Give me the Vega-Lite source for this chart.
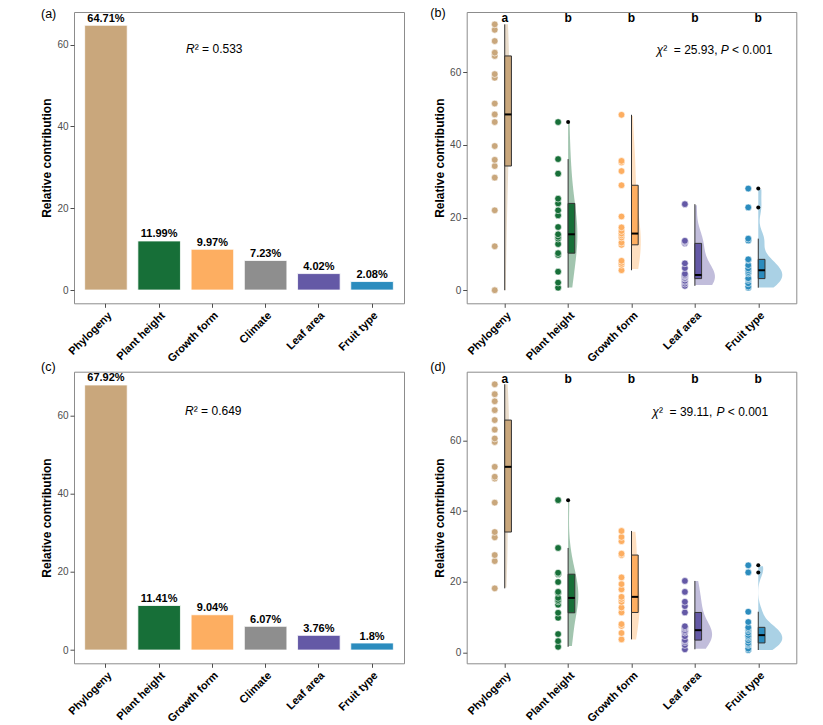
{
  "$schema": "https://vega.github.io/schema/vega-lite/v6.json",
  "background": "white",
  "padding": {"left": 40, "top": 6, "right": 5, "bottom": 2},
  "config": {
    "font": "Liberation Sans",
    "view": {"stroke": "#8c8c8c", "strokeWidth": 1},
    "axis": {"domain": false, "grid": false, "tickColor": "#4d4d4d", "tickSize": 4, "labelColor": "#4d4d4d", "labelFontSize": 10, "titleFontSize": 12, "titleFontWeight": "bold", "titleColor": "black", "labelPadding": 2, "titlePadding": 3}
  },
  "datasets": {
    "bar_a": [
      {"cat": "Phylogeny", "v": 64.71, "lab": "64.71%"},
      {"cat": "Plant height", "v": 11.99, "lab": "11.99%"},
      {"cat": "Growth form", "v": 9.97, "lab": "9.97%"},
      {"cat": "Climate", "v": 7.23, "lab": "7.23%"},
      {"cat": "Leaf area", "v": 4.02, "lab": "4.02%"},
      {"cat": "Fruit type", "v": 2.08, "lab": "2.08%"}
    ],
    "bar_c": [
      {"cat": "Phylogeny", "v": 67.92, "lab": "67.92%"},
      {"cat": "Plant height", "v": 11.41, "lab": "11.41%"},
      {"cat": "Growth form", "v": 9.04, "lab": "9.04%"},
      {"cat": "Climate", "v": 6.07, "lab": "6.07%"},
      {"cat": "Leaf area", "v": 3.76, "lab": "3.76%"},
      {"cat": "Fruit type", "v": 1.8, "lab": "1.8%"}
    ],
    "pts_b": [
      {"cat": "Phylogeny", "v": 0}, {"cat": "Phylogeny", "v": 12.1}, {"cat": "Phylogeny", "v": 22.0}, {"cat": "Phylogeny", "v": 31.0}, {"cat": "Phylogeny", "v": 34.2}, {"cat": "Phylogeny", "v": 35.9}, {"cat": "Phylogeny", "v": 39.7}, {"cat": "Phylogeny", "v": 46.3}, {"cat": "Phylogeny", "v": 48.4}, {"cat": "Phylogeny", "v": 51.4}, {"cat": "Phylogeny", "v": 58.5}, {"cat": "Phylogeny", "v": 59.5}, {"cat": "Phylogeny", "v": 64.5}, {"cat": "Phylogeny", "v": 65.4}, {"cat": "Phylogeny", "v": 68.6}, {"cat": "Phylogeny", "v": 71.7}, {"cat": "Phylogeny", "v": 73.2},
      {"cat": "Plant height", "v": 0.7}, {"cat": "Plant height", "v": 2.1}, {"cat": "Plant height", "v": 5.1}, {"cat": "Plant height", "v": 9.7}, {"cat": "Plant height", "v": 10.2}, {"cat": "Plant height", "v": 12.7}, {"cat": "Plant height", "v": 14.2}, {"cat": "Plant height", "v": 14.7}, {"cat": "Plant height", "v": 15.4}, {"cat": "Plant height", "v": 17.4}, {"cat": "Plant height", "v": 20.6}, {"cat": "Plant height", "v": 22.0}, {"cat": "Plant height", "v": 23.9}, {"cat": "Plant height", "v": 25.2}, {"cat": "Plant height", "v": 32.1}, {"cat": "Plant height", "v": 36.1}, {"cat": "Plant height", "v": 46.3},
      {"cat": "Growth form", "v": 5.5}, {"cat": "Growth form", "v": 7.0}, {"cat": "Growth form", "v": 7.5}, {"cat": "Growth form", "v": 8.1}, {"cat": "Growth form", "v": 12.5}, {"cat": "Growth form", "v": 13.1}, {"cat": "Growth form", "v": 14.5}, {"cat": "Growth form", "v": 15.1}, {"cat": "Growth form", "v": 15.6}, {"cat": "Growth form", "v": 16.3}, {"cat": "Growth form", "v": 17.3}, {"cat": "Growth form", "v": 20.3}, {"cat": "Growth form", "v": 28.9}, {"cat": "Growth form", "v": 32.8}, {"cat": "Growth form", "v": 35.2}, {"cat": "Growth form", "v": 35.6}, {"cat": "Growth form", "v": 48.3},
      {"cat": "Leaf area", "v": 1.2}, {"cat": "Leaf area", "v": 1.8}, {"cat": "Leaf area", "v": 2.3}, {"cat": "Leaf area", "v": 2.6}, {"cat": "Leaf area", "v": 3.2}, {"cat": "Leaf area", "v": 3.4}, {"cat": "Leaf area", "v": 3.8}, {"cat": "Leaf area", "v": 4.0}, {"cat": "Leaf area", "v": 4.2}, {"cat": "Leaf area", "v": 4.5}, {"cat": "Leaf area", "v": 6.1}, {"cat": "Leaf area", "v": 7.4}, {"cat": "Leaf area", "v": 12.9}, {"cat": "Leaf area", "v": 13.2}, {"cat": "Leaf area", "v": 13.4}, {"cat": "Leaf area", "v": 13.6}, {"cat": "Leaf area", "v": 23.7},
      {"cat": "Fruit type", "v": 0.7}, {"cat": "Fruit type", "v": 1.0}, {"cat": "Fruit type", "v": 1.9}, {"cat": "Fruit type", "v": 2.8}, {"cat": "Fruit type", "v": 3.2}, {"cat": "Fruit type", "v": 3.3}, {"cat": "Fruit type", "v": 4.6}, {"cat": "Fruit type", "v": 5.0}, {"cat": "Fruit type", "v": 5.5}, {"cat": "Fruit type", "v": 6.0}, {"cat": "Fruit type", "v": 6.9}, {"cat": "Fruit type", "v": 8.3}, {"cat": "Fruit type", "v": 8.5}, {"cat": "Fruit type", "v": 13.7}, {"cat": "Fruit type", "v": 14.2}, {"cat": "Fruit type", "v": 22.8}, {"cat": "Fruit type", "v": 28.0}
    ],
    "box_b": [
      {"cat": "Phylogeny", "lo": 0, "q1": 34.2, "med": 48.4, "q3": 64.5, "hi": 73.2},
      {"cat": "Plant height", "lo": 0.7, "q1": 10.2, "med": 15.4, "q3": 23.9, "hi": 36.1},
      {"cat": "Growth form", "lo": 5.5, "q1": 12.5, "med": 15.6, "q3": 28.9, "hi": 48.3},
      {"cat": "Leaf area", "lo": 1.2, "q1": 3.2, "med": 4.2, "q3": 12.9, "hi": 23.7},
      {"cat": "Fruit type", "lo": 0.7, "q1": 3.2, "med": 5.5, "q3": 8.5, "hi": 14.2}
    ],
    "out_b": [
      {"cat": "Plant height", "v": 46.3}, {"cat": "Fruit type", "v": 22.8}, {"cat": "Fruit type", "v": 28.0}
    ],
    "sig_b": [
      {"cat": "Phylogeny", "sig": "a"}, {"cat": "Plant height", "sig": "b"}, {"cat": "Growth form", "sig": "b"}, {"cat": "Leaf area", "sig": "b"}, {"cat": "Fruit type", "sig": "b"}
    ],
    "pts_d": [
      {"cat": "Phylogeny", "v": 18.2}, {"cat": "Phylogeny", "v": 25.9}, {"cat": "Phylogeny", "v": 27.6}, {"cat": "Phylogeny", "v": 32.6}, {"cat": "Phylogeny", "v": 34.1}, {"cat": "Phylogeny", "v": 42.4}, {"cat": "Phylogeny", "v": 49.2}, {"cat": "Phylogeny", "v": 49.7}, {"cat": "Phylogeny", "v": 52.5}, {"cat": "Phylogeny", "v": 59.5}, {"cat": "Phylogeny", "v": 60.5}, {"cat": "Phylogeny", "v": 63.0}, {"cat": "Phylogeny", "v": 65.7}, {"cat": "Phylogeny", "v": 68.5}, {"cat": "Phylogeny", "v": 71.0}, {"cat": "Phylogeny", "v": 73.0}, {"cat": "Phylogeny", "v": 75.8},
      {"cat": "Plant height", "v": 1.7}, {"cat": "Plant height", "v": 3.3}, {"cat": "Plant height", "v": 5.3}, {"cat": "Plant height", "v": 9.9}, {"cat": "Plant height", "v": 11.3}, {"cat": "Plant height", "v": 13.6}, {"cat": "Plant height", "v": 14.5}, {"cat": "Plant height", "v": 14.9}, {"cat": "Plant height", "v": 15.5}, {"cat": "Plant height", "v": 16.9}, {"cat": "Plant height", "v": 17.2}, {"cat": "Plant height", "v": 20.0}, {"cat": "Plant height", "v": 22.2}, {"cat": "Plant height", "v": 22.4}, {"cat": "Plant height", "v": 22.6}, {"cat": "Plant height", "v": 29.6}, {"cat": "Plant height", "v": 43.1},
      {"cat": "Growth form", "v": 3.8}, {"cat": "Growth form", "v": 5.6}, {"cat": "Growth form", "v": 7.6}, {"cat": "Growth form", "v": 8.1}, {"cat": "Growth form", "v": 11.4}, {"cat": "Growth form", "v": 12.8}, {"cat": "Growth form", "v": 14.4}, {"cat": "Growth form", "v": 15.2}, {"cat": "Growth form", "v": 15.8}, {"cat": "Growth form", "v": 17.9}, {"cat": "Growth form", "v": 19.4}, {"cat": "Growth form", "v": 21.3}, {"cat": "Growth form", "v": 27.6}, {"cat": "Growth form", "v": 28.0}, {"cat": "Growth form", "v": 31.5}, {"cat": "Growth form", "v": 32.7}, {"cat": "Growth form", "v": 34.4},
      {"cat": "Leaf area", "v": 1.0}, {"cat": "Leaf area", "v": 2.2}, {"cat": "Leaf area", "v": 3.0}, {"cat": "Leaf area", "v": 3.4}, {"cat": "Leaf area", "v": 3.6}, {"cat": "Leaf area", "v": 4.7}, {"cat": "Leaf area", "v": 5.7}, {"cat": "Leaf area", "v": 6.1}, {"cat": "Leaf area", "v": 6.4}, {"cat": "Leaf area", "v": 6.9}, {"cat": "Leaf area", "v": 7.2}, {"cat": "Leaf area", "v": 7.5}, {"cat": "Leaf area", "v": 11.4}, {"cat": "Leaf area", "v": 13.2}, {"cat": "Leaf area", "v": 14.4}, {"cat": "Leaf area", "v": 17.2}, {"cat": "Leaf area", "v": 20.3},
      {"cat": "Fruit type", "v": 0.8}, {"cat": "Fruit type", "v": 1.2}, {"cat": "Fruit type", "v": 2.2}, {"cat": "Fruit type", "v": 2.5}, {"cat": "Fruit type", "v": 2.8}, {"cat": "Fruit type", "v": 3.5}, {"cat": "Fruit type", "v": 4.2}, {"cat": "Fruit type", "v": 4.6}, {"cat": "Fruit type", "v": 5.0}, {"cat": "Fruit type", "v": 5.7}, {"cat": "Fruit type", "v": 6.4}, {"cat": "Fruit type", "v": 6.8}, {"cat": "Fruit type", "v": 7.2}, {"cat": "Fruit type", "v": 8.7}, {"cat": "Fruit type", "v": 11.6}, {"cat": "Fruit type", "v": 22.7}, {"cat": "Fruit type", "v": 24.7}
    ],
    "box_d": [
      {"cat": "Phylogeny", "lo": 18.2, "q1": 34.1, "med": 52.5, "q3": 65.7, "hi": 75.8},
      {"cat": "Plant height", "lo": 1.7, "q1": 11.3, "med": 15.5, "q3": 22.2, "hi": 29.6},
      {"cat": "Growth form", "lo": 3.8, "q1": 11.4, "med": 15.8, "q3": 27.6, "hi": 34.4},
      {"cat": "Leaf area", "lo": 1.0, "q1": 3.6, "med": 6.4, "q3": 11.4, "hi": 20.3},
      {"cat": "Fruit type", "lo": 0.8, "q1": 2.8, "med": 5.0, "q3": 7.2, "hi": 11.6}
    ],
    "out_d": [
      {"cat": "Plant height", "v": 43.1}, {"cat": "Fruit type", "v": 22.7}, {"cat": "Fruit type", "v": 24.7}
    ],
    "sig_d": [
      {"cat": "Phylogeny", "sig": "a"}, {"cat": "Plant height", "sig": "b"}, {"cat": "Growth form", "sig": "b"}, {"cat": "Leaf area", "sig": "b"}, {"cat": "Fruit type", "sig": "b"}
    ]
  },
  "columns": 2,
  "bounds": "flush",
  "spacing": {"row": 67.7, "column": 62.7},
  "resolve": {"scale": {"xOffset": "independent"}},
  "concat": [
    {
      "width": 330, "height": 291.3,
      "title": {"text": "(a)", "anchor": "start", "frame": "group", "dx": -33, "offset": -14, "baseline": "middle", "fontSize": 12.5, "fontWeight": "normal", "color": "black"},
      "data": {"name": "bar_a"},
      "encoding": {
        "x": {"field": "cat", "type": "nominal", "scale": {"domain": ["Phylogeny", "Plant height", "Growth form", "Climate", "Leaf area", "Fruit type"], "paddingInner": 0.2, "paddingOuter": 0.2}, "axis": {"title": null, "labelAngle": -45, "labelAlign": "right", "labelBaseline": "top", "labelFontWeight": "bold", "labelColor": "black", "labelFontSize": 11, "labelPadding": 2}}
      },
      "layer": [
        {"mark": {"type": "bar", "stroke": "white", "strokeWidth": 0.8},
         "encoding": {
           "y": {"field": "v", "type": "quantitative", "scale": {"domain": [-3.24, 67.95], "nice": false}, "axis": {"title": "Relative contribution", "values": [0, 20, 40, 60]}},
           "color": {"field": "cat", "type": "nominal", "scale": {"domain": ["Phylogeny", "Plant height", "Growth form", "Climate", "Leaf area", "Fruit type"], "range": ["#C9A77C", "#176F38", "#FDAE61", "#8E8E8E", "#6459A6", "#2B8CBE"]}, "legend": null}
         }},
        {"mark": {"type": "text", "baseline": "bottom", "dy": -1.5, "fontWeight": "bold", "fontSize": 11, "color": "black"},
         "encoding": {
           "y": {"field": "v", "type": "quantitative", "scale": {"domain": [-3.24, 67.95], "nice": false}, "axis": {"title": "Relative contribution", "values": [0, 20, 40, 60]}},
           "text": {"field": "lab"}
         }},
        {"data": {"values": [{}]}, "mark": {"type": "text", "align": "left", "baseline": "middle", "fontStyle": "italic", "fontSize": 12, "dx": -26.3, "color": "black"},
         "encoding": {"x": {"datum": "Growth form"}, "y": {"datum": 59.0, "type": "quantitative"}, "text": {"value": "R"}}},
        {"data": {"values": [{}]}, "mark": {"type": "text", "align": "left", "baseline": "middle", "fontSize": 12, "dx": -17.6, "color": "black"},
         "encoding": {"x": {"datum": "Growth form"}, "y": {"datum": 59.0, "type": "quantitative"}, "text": {"value": "²\u00a0=\u00a00.533"}}}
      ]
    },
    {
      "width": 329.6, "height": 291.3,
      "title": {"text": "(b)", "anchor": "start", "frame": "group", "dx": -36.4, "offset": -14, "baseline": "middle", "fontSize": 12.5, "fontWeight": "normal", "color": "black"},
      "encoding": {
        "x": {"field": "cat", "type": "nominal", "scale": {"type": "point", "padding": 0.6, "domain": ["Phylogeny", "Plant height", "Growth form", "Leaf area", "Fruit type"]}, "axis": {"title": null, "labelAngle": -45, "labelAlign": "right", "labelBaseline": "top", "labelFontWeight": "bold", "labelColor": "black", "labelFontSize": 11, "labelPadding": 2}}
      },
      "layer": [
        {"data": {"name": "pts_b"},
         "transform": [
           {"joinaggregate": [{"op": "min", "field": "v", "as": "vmin"}, {"op": "max", "field": "v", "as": "vmax"}], "groupby": ["cat"]},
           {"density": "v", "groupby": ["cat", "vmin", "vmax"], "as": ["v", "dens"]},
           {"filter": "datum.v >= datum.vmin && datum.v <= datum.vmax"}
         ],
         "mark": {"type": "area", "orient": "horizontal", "opacity": 0.4},
         "encoding": {
           "x2": {"field": "cat"},
           "xOffset": {"field": "dens", "type": "quantitative", "scale": {"zero": true, "range": [0, 24]}},
           "y": {"field": "v", "type": "quantitative", "scale": {"domain": [-3.6, 76.6], "nice": false, "zero": false}, "axis": {"title": "Relative contribution", "values": [0, 20, 40, 60]}},
           "color": {"field": "cat", "type": "nominal", "scale": {"domain": ["Phylogeny", "Plant height", "Growth form", "Climate", "Leaf area", "Fruit type"], "range": ["#C9A77C", "#176F38", "#FDAE61", "#8E8E8E", "#6459A6", "#2B8CBE"]}, "legend": null}
         }},
        {"data": {"name": "box_b"},
         "mark": {"type": "rule", "color": "#333333", "strokeWidth": 1},
         "encoding": {
           "y": {"field": "lo", "type": "quantitative", "scale": {"domain": [-3.6, 76.6], "nice": false, "zero": false}, "axis": {"title": "Relative contribution", "values": [0, 20, 40, 60]}},
           "y2": {"field": "hi"}
         }},
        {"data": {"name": "box_b"},
         "mark": {"type": "bar", "width": 6.7, "xOffset": 3.35, "stroke": "#333333", "strokeWidth": 1},
         "encoding": {
           "y": {"field": "q1", "type": "quantitative", "scale": {"domain": [-3.6, 76.6], "nice": false, "zero": false}, "axis": {"title": "Relative contribution", "values": [0, 20, 40, 60]}},
           "y2": {"field": "q3"},
           "color": {"field": "cat", "type": "nominal", "scale": {"domain": ["Phylogeny", "Plant height", "Growth form", "Climate", "Leaf area", "Fruit type"], "range": ["#C9A77C", "#176F38", "#FDAE61", "#8E8E8E", "#6459A6", "#2B8CBE"]}, "legend": null}
         }},
        {"data": {"name": "box_b"},
         "mark": {"type": "tick", "orient": "horizontal", "size": 6.7, "thickness": 2, "xOffset": 3.35, "color": "black", "opacity": 1},
         "encoding": {
           "y": {"field": "med", "type": "quantitative", "scale": {"domain": [-3.6, 76.6], "nice": false, "zero": false}, "axis": {"title": "Relative contribution", "values": [0, 20, 40, 60]}}
         }},
        {"data": {"name": "pts_b"},
         "mark": {"type": "circle", "size": 45, "opacity": 1, "stroke": "white", "strokeWidth": 0.6, "xOffset": -10},
         "encoding": {
           "y": {"field": "v", "type": "quantitative", "scale": {"domain": [-3.6, 76.6], "nice": false, "zero": false}, "axis": {"title": "Relative contribution", "values": [0, 20, 40, 60]}},
           "color": {"field": "cat", "type": "nominal", "scale": {"domain": ["Phylogeny", "Plant height", "Growth form", "Climate", "Leaf area", "Fruit type"], "range": ["#C9A77C", "#176F38", "#FDAE61", "#8E8E8E", "#6459A6", "#2B8CBE"]}, "legend": null}
         }},
        {"data": {"name": "out_b"},
         "mark": {"type": "circle", "size": 16, "opacity": 1, "color": "black"},
         "encoding": {
           "y": {"field": "v", "type": "quantitative", "scale": {"domain": [-3.6, 76.6], "nice": false, "zero": false}, "axis": {"title": "Relative contribution", "values": [0, 20, 40, 60]}}
         }},
        {"data": {"name": "sig_b"},
         "mark": {"type": "text", "fontWeight": "bold", "fontSize": 12, "baseline": "middle", "color": "black"},
         "encoding": {"y": {"datum": 75.06, "type": "quantitative"}, "text": {"field": "sig"}}},
        {"data": {"values": [{}]}, "mark": {"type": "text", "align": "left", "baseline": "middle", "fontStyle": "italic", "fontSize": 12, "dx": -38.3, "color": "black"},
         "encoding": {"x": {"datum": "Leaf area"}, "y": {"datum": 66.1, "type": "quantitative"}, "text": {"value": "χ"}}},
        {"data": {"values": [{}]}, "mark": {"type": "text", "align": "left", "baseline": "middle", "fontSize": 12, "dx": -31.7, "color": "black"},
         "encoding": {"x": {"datum": "Leaf area"}, "y": {"datum": 66.1, "type": "quantitative"}, "text": {"value": "²\u00a0\u00a0=\u00a025.93,"}}},
        {"data": {"values": [{}]}, "mark": {"type": "text", "align": "left", "baseline": "middle", "fontStyle": "italic", "fontSize": 12, "dx": 25.9, "color": "black"},
         "encoding": {"x": {"datum": "Leaf area"}, "y": {"datum": 66.1, "type": "quantitative"}, "text": {"value": "P"}}},
        {"data": {"values": [{}]}, "mark": {"type": "text", "align": "left", "baseline": "middle", "fontSize": 12, "dx": 37.2, "color": "black"},
         "encoding": {"x": {"datum": "Leaf area"}, "y": {"datum": 66.1, "type": "quantitative"}, "text": {"value": "<\u00a00.001"}}}
      ]
    },
    {
      "width": 330, "height": 291.6,
      "title": {"text": "(c)", "anchor": "start", "frame": "group", "dx": -33, "offset": -7.5, "baseline": "middle", "fontSize": 12.5, "fontWeight": "normal", "color": "black"},
      "data": {"name": "bar_c"},
      "encoding": {
        "x": {"field": "cat", "type": "nominal", "scale": {"domain": ["Phylogeny", "Plant height", "Growth form", "Climate", "Leaf area", "Fruit type"], "paddingInner": 0.2, "paddingOuter": 0.2}, "axis": {"title": null, "labelAngle": -45, "labelAlign": "right", "labelBaseline": "top", "labelFontWeight": "bold", "labelColor": "black", "labelFontSize": 11, "labelPadding": 2}}
      },
      "layer": [
        {"mark": {"type": "bar", "stroke": "white", "strokeWidth": 0.8},
         "encoding": {
           "y": {"field": "v", "type": "quantitative", "scale": {"domain": [-3.4, 71.32], "nice": false}, "axis": {"title": "Relative contribution", "values": [0, 20, 40, 60]}},
           "color": {"field": "cat", "type": "nominal", "scale": {"domain": ["Phylogeny", "Plant height", "Growth form", "Climate", "Leaf area", "Fruit type"], "range": ["#C9A77C", "#176F38", "#FDAE61", "#8E8E8E", "#6459A6", "#2B8CBE"]}, "legend": null}
         }},
        {"mark": {"type": "text", "baseline": "bottom", "dy": -1.5, "fontWeight": "bold", "fontSize": 11, "color": "black"},
         "encoding": {
           "y": {"field": "v", "type": "quantitative", "scale": {"domain": [-3.4, 71.32], "nice": false}, "axis": {"title": "Relative contribution", "values": [0, 20, 40, 60]}},
           "text": {"field": "lab"}
         }},
        {"data": {"values": [{}]}, "mark": {"type": "text", "align": "left", "baseline": "middle", "fontStyle": "italic", "fontSize": 12, "dx": -27.3, "color": "black"},
         "encoding": {"x": {"datum": "Growth form"}, "y": {"datum": 61.3, "type": "quantitative"}, "text": {"value": "R"}}},
        {"data": {"values": [{}]}, "mark": {"type": "text", "align": "left", "baseline": "middle", "fontSize": 12, "dx": -18.6, "color": "black"},
         "encoding": {"x": {"datum": "Growth form"}, "y": {"datum": 61.3, "type": "quantitative"}, "text": {"value": "²\u00a0=\u00a00.649"}}}
      ]
    },
    {
      "width": 329.6, "height": 291.6,
      "title": {"text": "(d)", "anchor": "start", "frame": "group", "dx": -36.4, "offset": -7.5, "baseline": "middle", "fontSize": 12.5, "fontWeight": "normal", "color": "black"},
      "encoding": {
        "x": {"field": "cat", "type": "nominal", "scale": {"type": "point", "padding": 0.6, "domain": ["Phylogeny", "Plant height", "Growth form", "Leaf area", "Fruit type"]}, "axis": {"title": null, "labelAngle": -45, "labelAlign": "right", "labelBaseline": "top", "labelFontWeight": "bold", "labelColor": "black", "labelFontSize": 11, "labelPadding": 2}}
      },
      "layer": [
        {"data": {"name": "pts_d"},
         "transform": [
           {"joinaggregate": [{"op": "min", "field": "v", "as": "vmin"}, {"op": "max", "field": "v", "as": "vmax"}], "groupby": ["cat"]},
           {"density": "v", "groupby": ["cat", "vmin", "vmax"], "as": ["v", "dens"]},
           {"filter": "datum.v >= datum.vmin && datum.v <= datum.vmax"}
         ],
         "mark": {"type": "area", "orient": "horizontal", "opacity": 0.4},
         "encoding": {
           "x2": {"field": "cat"},
           "xOffset": {"field": "dens", "type": "quantitative", "scale": {"zero": true, "range": [0, 24]}},
           "y": {"field": "v", "type": "quantitative", "scale": {"domain": [-2.95, 79.35], "nice": false, "zero": false}, "axis": {"title": "Relative contribution", "values": [0, 20, 40, 60]}},
           "color": {"field": "cat", "type": "nominal", "scale": {"domain": ["Phylogeny", "Plant height", "Growth form", "Climate", "Leaf area", "Fruit type"], "range": ["#C9A77C", "#176F38", "#FDAE61", "#8E8E8E", "#6459A6", "#2B8CBE"]}, "legend": null}
         }},
        {"data": {"name": "box_d"},
         "mark": {"type": "rule", "color": "#333333", "strokeWidth": 1},
         "encoding": {
           "y": {"field": "lo", "type": "quantitative", "scale": {"domain": [-2.95, 79.35], "nice": false, "zero": false}, "axis": {"title": "Relative contribution", "values": [0, 20, 40, 60]}},
           "y2": {"field": "hi"}
         }},
        {"data": {"name": "box_d"},
         "mark": {"type": "bar", "width": 6.7, "xOffset": 3.35, "stroke": "#333333", "strokeWidth": 1},
         "encoding": {
           "y": {"field": "q1", "type": "quantitative", "scale": {"domain": [-2.95, 79.35], "nice": false, "zero": false}, "axis": {"title": "Relative contribution", "values": [0, 20, 40, 60]}},
           "y2": {"field": "q3"},
           "color": {"field": "cat", "type": "nominal", "scale": {"domain": ["Phylogeny", "Plant height", "Growth form", "Climate", "Leaf area", "Fruit type"], "range": ["#C9A77C", "#176F38", "#FDAE61", "#8E8E8E", "#6459A6", "#2B8CBE"]}, "legend": null}
         }},
        {"data": {"name": "box_d"},
         "mark": {"type": "tick", "orient": "horizontal", "size": 6.7, "thickness": 2, "xOffset": 3.35, "color": "black", "opacity": 1},
         "encoding": {
           "y": {"field": "med", "type": "quantitative", "scale": {"domain": [-2.95, 79.35], "nice": false, "zero": false}, "axis": {"title": "Relative contribution", "values": [0, 20, 40, 60]}}
         }},
        {"data": {"name": "pts_d"},
         "mark": {"type": "circle", "size": 45, "opacity": 1, "stroke": "white", "strokeWidth": 0.6, "xOffset": -10},
         "encoding": {
           "y": {"field": "v", "type": "quantitative", "scale": {"domain": [-2.95, 79.35], "nice": false, "zero": false}, "axis": {"title": "Relative contribution", "values": [0, 20, 40, 60]}},
           "color": {"field": "cat", "type": "nominal", "scale": {"domain": ["Phylogeny", "Plant height", "Growth form", "Climate", "Leaf area", "Fruit type"], "range": ["#C9A77C", "#176F38", "#FDAE61", "#8E8E8E", "#6459A6", "#2B8CBE"]}, "legend": null}
         }},
        {"data": {"name": "out_d"},
         "mark": {"type": "circle", "size": 16, "opacity": 1, "color": "black"},
         "encoding": {
           "y": {"field": "v", "type": "quantitative", "scale": {"domain": [-2.95, 79.35], "nice": false, "zero": false}, "axis": {"title": "Relative contribution", "values": [0, 20, 40, 60]}}
         }},
        {"data": {"name": "sig_d"},
         "mark": {"type": "text", "fontWeight": "bold", "fontSize": 12, "baseline": "middle", "color": "black"},
         "encoding": {"y": {"datum": 77.4, "type": "quantitative"}, "text": {"field": "sig"}}},
        {"data": {"values": [{}]}, "mark": {"type": "text", "align": "left", "baseline": "middle", "fontStyle": "italic", "fontSize": 12, "dx": -42.6, "color": "black"},
         "encoding": {"x": {"datum": "Leaf area"}, "y": {"datum": 68.0, "type": "quantitative"}, "text": {"value": "χ"}}},
        {"data": {"values": [{}]}, "mark": {"type": "text", "align": "left", "baseline": "middle", "fontSize": 12, "dx": -36.0, "color": "black"},
         "encoding": {"x": {"datum": "Leaf area"}, "y": {"datum": 68.0, "type": "quantitative"}, "text": {"value": "²\u00a0\u00a0=\u00a039.11,"}}},
        {"data": {"values": [{}]}, "mark": {"type": "text", "align": "left", "baseline": "middle", "fontStyle": "italic", "fontSize": 12, "dx": 21.6, "color": "black"},
         "encoding": {"x": {"datum": "Leaf area"}, "y": {"datum": 68.0, "type": "quantitative"}, "text": {"value": "P"}}},
        {"data": {"values": [{}]}, "mark": {"type": "text", "align": "left", "baseline": "middle", "fontSize": 12, "dx": 32.9, "color": "black"},
         "encoding": {"x": {"datum": "Leaf area"}, "y": {"datum": 68.0, "type": "quantitative"}, "text": {"value": "<\u00a00.001"}}}
      ]
    }
  ]
}
